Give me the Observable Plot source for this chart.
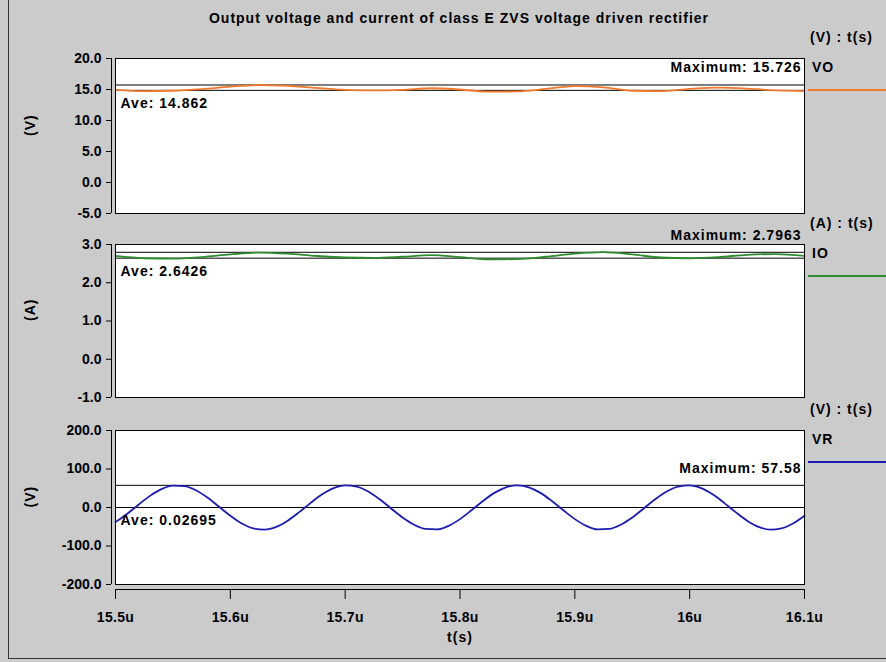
<!DOCTYPE html>
<html>
<head>
<meta charset="utf-8">
<script src="https://cdn.jsdelivr.net/npm/d3@7"></script>
<script src="https://cdn.jsdelivr.net/npm/@observablehq/plot@0.6"></script>
<style>
  body { margin: 0; background: #cbcbcb; }
  #wrap { position: relative; width: 886px; height: 662px; overflow: hidden; background: #cbcbcb;
          font-family: "Liberation Sans", Arial, sans-serif; font-weight: bold; color: #000; }
  .abs { position: absolute; white-space: nowrap; }
  .lg { font-size: 14px; letter-spacing: 1px; }
  .sw { position: absolute; height: 2px; left: 808px; width: 80px; }
  .panel { position: absolute; left: 0; }
  .panel g[aria-label="text"] { letter-spacing: 1px; }
  .panel g[aria-label="x-axis tick label"] { letter-spacing: 0.3px; }
</style>
</head>
<body>
<div id="wrap">
  <div class="abs" style="left:8px;top:-5px;width:1000px;height:663px;border-left:1px solid #333;border-bottom:1px solid #333;"></div>
  <div class="abs" style="left:0;width:918px;top:10px;text-align:center;font-size:14px;letter-spacing:1px;">Output voltage and current of class E ZVS voltage driven rectifier</div>
</div>
<script>
// ---- data ----
const seriesNames = ["VO", "IO", "VR"];
const unitLabels = ["(V) : t(s)", "(A) : t(s)", "(V) : t(s)"];
const axisUnits = ["(V)", "(A)", "(V)"];
const seriesColors = ["#f07a2a", "#2e8b2e", "#1c1cb0"];

const xTickValues = [15.5, 15.6, 15.7, 15.8, 15.9, 16.0, 16.1];
const xTickLabels = ["15.5u", "15.6u", "15.7u", "15.8u", "15.9u", "16u", "16.1u"];

const yTicksVO = [-5, 0, 5, 10, 15, 20];
const yTicksIO = [-1, 0, 1, 2, 3];
const yTicksVR = [-200, -100, 0, 100, 200];

// time (us) for VO and IO
const tRipple = [15.500, 15.525, 15.550, 15.575, 15.600, 15.625, 15.650, 15.675, 15.700, 15.725,
                 15.750, 15.775, 15.800, 15.825, 15.850, 15.875, 15.900, 15.925, 15.950, 15.975,
                 16.000, 16.025, 16.050, 16.075, 16.100];
const vo = [14.95, 14.75, 14.80, 15.05, 15.45, 15.72, 15.60, 15.25, 14.95, 14.85,
            14.95, 15.20, 15.00, 14.65, 14.70, 15.10, 15.55, 15.35, 14.80, 14.75,
            15.10, 15.30, 15.15, 14.85, 14.75];
const io = [2.70, 2.64, 2.63, 2.67, 2.74, 2.79, 2.76, 2.70, 2.66, 2.65,
            2.68, 2.72, 2.67, 2.61, 2.62, 2.68, 2.76, 2.80, 2.74, 2.66,
            2.64, 2.67, 2.73, 2.75, 2.70];

// time (us) for VR
const tVR = [15.50, 15.51, 15.52, 15.53, 15.54, 15.55, 15.56, 15.57, 15.58, 15.59,
             15.60, 15.61, 15.62, 15.63, 15.64, 15.65, 15.66, 15.67, 15.68, 15.69,
             15.70, 15.71, 15.72, 15.73, 15.74, 15.75, 15.76, 15.77, 15.78, 15.79,
             15.80, 15.81, 15.82, 15.83, 15.84, 15.85, 15.86, 15.87, 15.88, 15.89,
             15.90, 15.91, 15.92, 15.93, 15.94, 15.95, 15.96, 15.97, 15.98, 15.99,
             16.00, 16.01, 16.02, 16.03, 16.04, 16.05, 16.06, 16.07, 16.08, 16.09, 16.10];
const vr = [-38.0, -16.9, 7.3, 30.2, 47.7, 56.8, 55.7, 44.8, 25.9, 2.4,
            -21.5, -41.6, -54.3, -57.4, -50.3, -34.2, -12.1, 12.1, 34.2, 50.3,
            57.4, 54.3, 41.6, 21.5, -2.4, -25.9, -44.8, -55.7, -56.8, -47.7,
            -30.2, -7.3, 16.9, 38.0, 52.5, 57.6, 52.5, 38.0, 16.9, -7.3,
            -30.2, -47.7, -56.8, -55.7, -44.8, -25.9, -2.4, 21.5, 41.6, 54.3,
            57.4, 50.3, 34.2, 12.1, -12.1, -34.2, -50.3, -57.4, -54.3, -41.6, -21.5];

const maxValues = [15.726, 2.7963, 57.58];
const aveValues = [14.862, 2.6426, 0.02695];
const maxLabels = ["Maximum: 15.726", "Maximum: 2.7963", "Maximum: 57.58"];
const aveLabels = ["Ave: 14.862", "Ave: 2.6426", "Ave: 0.02695"];

// ---- drawing ----
const wrap = document.getElementById("wrap");
const X0 = 15.5, X1 = 16.1;

function panel(i, t, vals, yDomain, yTicks, top, marginTop, plotH, marginBottom, showX) {
  const rows = t.map((d, k) => ({t: d, v: vals[k]}));
  const marks = [
    Plot.frame({fill: "white", stroke: null}),
    Plot.ruleY([maxValues[i]], {stroke: "black", strokeWidth: 1}),
    Plot.ruleY([aveValues[i]], {stroke: "black", strokeWidth: 1}),
    Plot.line(rows, {x: "t", y: "v", stroke: seriesColors[i], strokeWidth: 1.8, curve: "monotone-x"}),
    Plot.frame({stroke: "black", strokeWidth: 1}),
    Plot.axisY({ticks: yTicks, tickFormat: d => d.toFixed(1), tickSize: 5, tickPadding: 5, dx: -4, label: null}),
    Plot.ruleX([X0], {y1: yDomain[0], y2: yDomain[1], dx: -4, stroke: "black"}),
    Plot.text([axisUnits[i]], {frameAnchor: "left", rotate: -90, dx: -85, fontSize: 14}),
    Plot.text([{x: X1, y: maxValues[i], s: maxLabels[i]}], {x: "x", y: "y", text: "s", textAnchor: "end", dx: -3, dy: -17, fontSize: 14, lineAnchor: "middle"}),
    Plot.text([{x: X0, y: aveValues[i], s: aveLabels[i]}], {x: "x", y: "y", text: "s", textAnchor: "start", dx: 5, dy: 13, fontSize: 14, lineAnchor: "middle"})
  ];
  if (showX) {
    const lab = new Map(xTickValues.map((d, k) => [d, xTickLabels[k]]));
    marks.push(
      Plot.axisX({ticks: xTickValues, tickFormat: d => lab.get(d), tickSize: 10, tickPadding: 13, dy: 5, label: null}),
      Plot.ruleY([yDomain[0]], {x1: X0, x2: X1, dy: 5, stroke: "black"}),
      Plot.text(["t(s)"], {frameAnchor: "bottom", dy: 57, fontSize: 14})
    );
  }
  const svg = Plot.plot({
    width: 886,
    height: marginTop + plotH + marginBottom,
    marginLeft: 115, marginRight: 82, marginTop, marginBottom,
    x: {domain: [X0, X1], axis: null},
    y: {domain: yDomain, axis: null},
    style: {background: "transparent", fontFamily: "'Liberation Sans', Arial, sans-serif", fontSize: "14px", fontWeight: "bold", overflow: "visible"},
    marks
  });
  svg.classList.add("panel");
  svg.style.top = top + "px";
  wrap.appendChild(svg);

  const ft = top + marginTop;
  const add = (txt, cls, style) => {
    const d = document.createElement("div");
    d.className = cls; d.textContent = txt; d.setAttribute("style", style);
    wrap.appendChild(d);
  };
  add(unitLabels[i], "abs lg", `left:810px;top:${ft - 29}px;`);
  add(seriesNames[i], "abs lg", `left:812px;top:${ft + 1}px;`);
  const sw = document.createElement("div");
  sw.className = "sw";
  sw.style.top = (ft + 31) + "px";
  sw.style.background = seriesColors[i];
  wrap.appendChild(sw);
}

panel(0, tRipple, vo, [-5, 20], yTicksVO, 30, 28, 155, 13, false);
panel(1, tRipple, io, [-1, 3], yTicksIO, 226, 18, 153, 13, false);
panel(2, tVR, vr, [-200, 200], yTicksVR, 410, 20, 154, 78, true);
</script>
</body>
</html>
